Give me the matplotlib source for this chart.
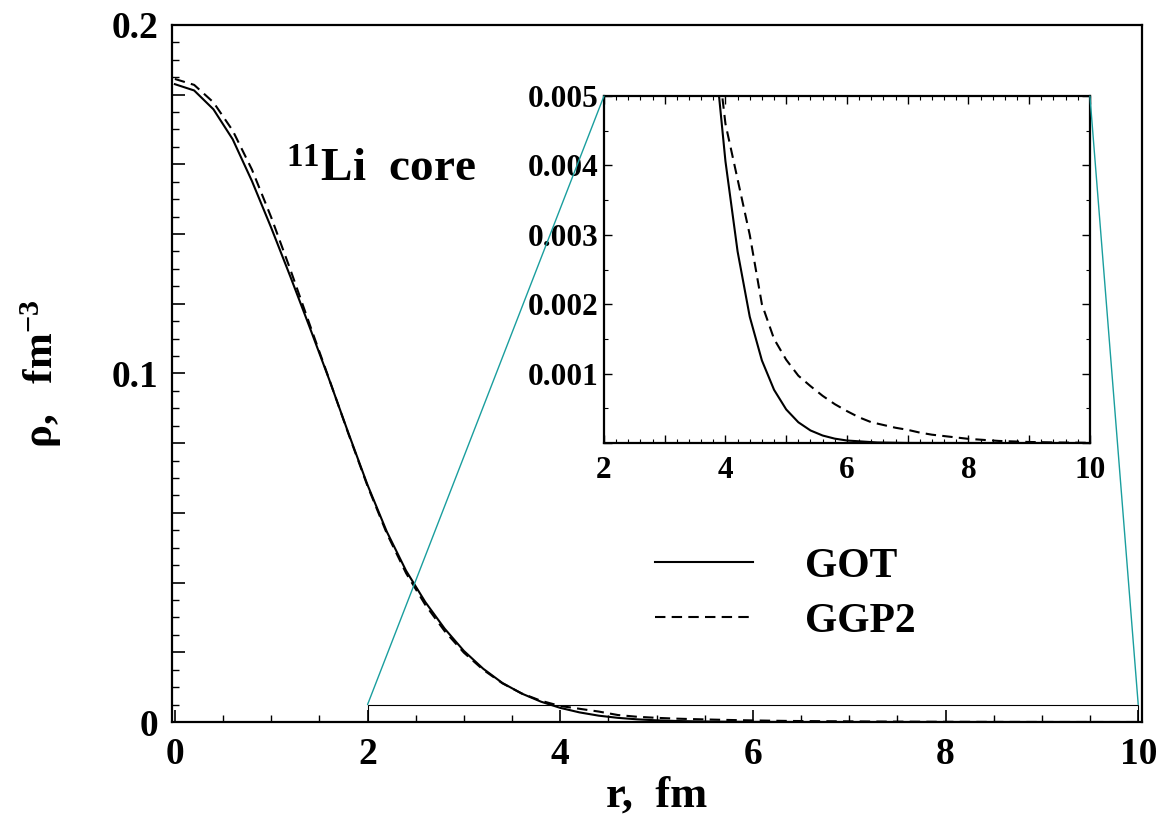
import matplotlib
matplotlib.use('agg')
import matplotlib.pyplot as plt
import numpy as np
from matplotlib.patches import Rectangle, ConnectionPatch
from matplotlib.ticker import MultipleLocator, FuncFormatter

plt.rcParams['font.family'] = ['Liberation Serif', 'DejaVu Serif']
plt.rcParams['font.weight'] = 'bold'
plt.rcParams['mathtext.fontset'] = 'custom'
plt.rcParams['mathtext.rm'] = 'Liberation Serif:bold'
plt.rcParams['mathtext.it'] = 'Liberation Serif:bold'
plt.rcParams['mathtext.bf'] = 'Liberation Serif:bold'

# radial grid (fm) and core densities (fm^-3)
r_got = [0, 0.2, 0.4, 0.6, 0.8, 1.0, 1.2, 1.4, 1.6, 1.8, 2.0, 2.2, 2.4, 2.6,
         2.8, 3.0, 3.2, 3.4, 3.6, 3.8, 4.0, 4.2, 4.4, 4.6, 4.8, 5.0, 5.2,
         5.4, 5.6, 5.8, 6.0, 6.5, 7.0, 8.0, 9.0, 10.0]
rho_got = [0.1830, 0.1812, 0.1758, 0.1672, 0.1552, 0.1418, 0.1277, 0.1132,
           0.0984, 0.0830, 0.0680, 0.0546, 0.0434, 0.0344, 0.0268, 0.0204,
           0.0153, 0.0112, 0.00817, 0.00584, 0.00406, 0.00276, 0.00182,
           0.00119, 0.000767, 0.000484, 0.000299, 0.000181, 0.000108,
           0.000063, 0.000036, 0.000008, 0.000001, 0.0, 0.0, 0.0]

r_ggp = [0, 0.2, 0.4, 0.6, 0.8, 1.0, 1.2, 1.4, 1.6, 1.8, 2.0, 2.2, 2.4, 2.6,
         2.8, 3.0, 3.2, 3.4, 3.6, 3.8, 4.0, 4.2, 4.4, 4.6, 4.8, 5.0, 5.2,
         5.4, 5.6, 5.8, 6.0, 6.2, 6.4, 6.6, 6.8, 7.0, 7.2, 7.4, 7.6, 7.8,
         8.0, 8.5, 9.0, 9.5, 10.0]
rho_ggp = [0.1845, 0.1828, 0.1778, 0.1697, 0.1585, 0.1448, 0.1297, 0.1140,
           0.0985, 0.0828, 0.0677, 0.0541, 0.0427, 0.0336, 0.0261, 0.0199,
           0.0150, 0.0111, 0.0082, 0.0061, 0.0046, 0.0038, 0.0030, 0.0020,
           0.00150, 0.00120, 0.00097, 0.00082, 0.00068, 0.00056, 0.00046,
           0.00037, 0.00030, 0.00026, 0.00022, 0.00019, 0.00015, 0.00012,
           0.00010, 0.00008, 0.00006, 0.00003, 0.000015, 0.000007, 0.000003]

labels = ['GOT', 'GGP2']

fig = plt.figure(figsize=(11.59, 8.23), dpi=100)
ax = fig.add_axes([0.1484, 0.1227, 0.837, 0.847])

ax.plot(r_got, rho_got, color='black', lw=1.5, label=labels[0])
ax.plot(r_ggp, rho_ggp, color='black', lw=1.5, ls=(0, (5, 3)), label=labels[1])

ax.set_xlim(-0.03, 10.04)
ax.set_ylim(0, 0.2)
ax.xaxis.set_major_locator(MultipleLocator(2))
ax.xaxis.set_minor_locator(MultipleLocator(0.5))
ax.yaxis.set_major_locator(MultipleLocator(0.02))
ax.yaxis.set_minor_locator(MultipleLocator(0.005))
ylab = {0: '0', 10: '0.1', 20: '0.2'}
ax.yaxis.set_major_formatter(FuncFormatter(lambda v, p: ylab.get(int(round(v * 100)), '')))
ax.tick_params(which='both', direction='in', top=False, right=False, labelsize=27)
ax.tick_params(which='major', length=9, width=1.2)
ax.tick_params(which='minor', length=5, width=1.0)
ax.tick_params(axis='x', pad=11)
ax.tick_params(axis='y', pad=10)
for s in ax.spines.values():
    s.set_linewidth(1.6)

ax.set_xlabel('r,  fm', fontsize=32, fontweight='bold', labelpad=2)
ax.set_ylabel(r'$\rho,\ \ \mathrm{fm}^{-3}$', fontsize=31, labelpad=34)

ax.text(1.15, 0.155, r'$^{11}$Li  core', fontsize=34, fontweight='bold', va='baseline')

leg = ax.legend(loc='upper left', bbox_to_anchor=(0.498, 0.25), frameon=False,
                fontsize=30, handlelength=2.35, handletextpad=1.25, labelspacing=0.4,
                borderpad=0, borderaxespad=0)

# zoom rectangle in the main panel
ax.add_patch(Rectangle((2, 0), 8, 0.005, fill=False, edgecolor='black', lw=0.8, zorder=3))

# inset
axi = fig.add_axes([0.5211, 0.4617, 0.4193, 0.4216])
axi.plot(r_got, rho_got, color='black', lw=1.5)
axi.plot(r_ggp, rho_ggp, color='black', lw=1.5, ls=(0, (5, 3)))
axi.set_xlim(2, 10)
axi.set_ylim(0, 0.005)
axi.xaxis.set_major_locator(MultipleLocator(1))
axi.xaxis.set_minor_locator(MultipleLocator(0.2))
axi.xaxis.set_major_formatter(FuncFormatter(lambda v, p: '%d' % v if int(round(v)) % 2 == 0 else ''))
axi.yaxis.set_major_locator(MultipleLocator(0.001))
axi.yaxis.set_minor_locator(MultipleLocator(0.0005))
axi.yaxis.set_major_formatter(FuncFormatter(lambda v, p: '' if abs(v) < 1e-9 else '%.3f' % v))
axi.tick_params(which='both', direction='in', top=True, right=True, labelsize=22.5)
axi.tick_params(which='major', length=6, width=1.0)
axi.tick_params(which='minor', length=3, width=0.8)
axi.tick_params(axis='x', pad=9)
axi.tick_params(axis='y', pad=4)
for s in axi.spines.values():
    s.set_linewidth(1.6)

teal = '#1a9e9e'
for xa, xb in [(2, 0), (10, 1)]:
    con = ConnectionPatch(xyA=(xa, 0.005), coordsA=ax.transData,
                          xyB=(xb, 1), coordsB=axi.transAxes,
                          color=teal, lw=1.0)
    fig.add_artist(con)

fig.savefig('out.png', dpi=100)
